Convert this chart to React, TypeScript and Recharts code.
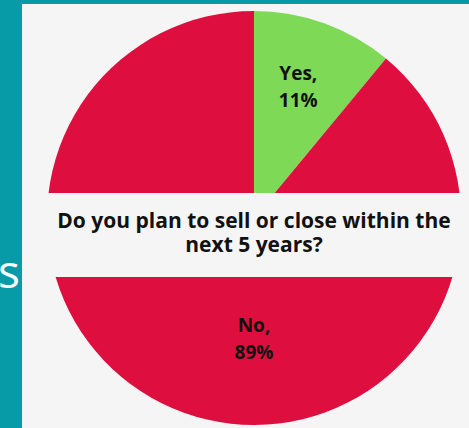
import { PieChart, Pie, Cell } from "recharts";

const TEAL = "#069BA6";
const PANEL = "#F5F5F5";
const RED = "#DE0F3F";
const GREEN = "#7ED957";

const answers = ["Yes", "No"];
const shares = [11, 89];
const sliceColors = [GREEN, RED];
const question = ["Do you plan to sell or close within the", "next 5 years?"];

const data = answers.map((name, i) => ({ name, value: shares[i] }));

const FONT = "'Open Sans', sans-serif";

function SliceLabel(props: any) {
  const { cx, cy, midAngle, outerRadius, index, name, value } = props;
  const RAD = Math.PI / 180;
  let x: number;
  let y: number;
  if (index === 0) {
    const r = outerRadius * 0.66;
    x = cx + r * Math.cos(-midAngle * RAD) - 2;
    y = cy + r * Math.sin(-midAngle * RAD) - 3;
  } else {
    x = cx;
    y = cy + outerRadius * 0.58;
  }
  return (
    <text x={x} y={y} textAnchor="middle" fill="#111" fontFamily={FONT} fontWeight={700} fontSize={19}>
      <tspan x={x} dy={-6}>{name},</tspan>
      <tspan x={x} dy={27}>{value}%</tspan>
    </text>
  );
}

export default function App() {
  return (
    <div style={{ position: "fixed", left: 0, top: 0, width: 469, height: 428, background: TEAL, overflow: "hidden" }}>
      <div
        style={{
          position: "absolute",
          left: -2,
          top: 247,
          color: "#fff",
          fontFamily: FONT,
          fontSize: 46,
          lineHeight: "46px",
        }}
      >
        s
      </div>
      <div style={{ position: "absolute", left: 22, top: 4, width: 447, height: 424, background: PANEL }} />
      <div style={{ position: "absolute", left: 0, top: 0 }}>
        <PieChart width={469} height={428} margin={{ top: 0, right: 0, bottom: 0, left: 0 }}>
          <Pie
            data={data}
            dataKey="value"
            nameKey="name"
            cx={254}
            cy={218}
            outerRadius={207}
            startAngle={90}
            endAngle={-270}
            stroke="none"
            labelLine={false}
            label={SliceLabel}
            isAnimationActive={false}
          >
            {data.map((_, i) => (
              <Cell key={i} fill={sliceColors[i]} />
            ))}
          </Pie>
        </PieChart>
      </div>
      <div
        style={{
          position: "absolute",
          left: 22,
          top: 193,
          width: 447,
          height: 84,
          background: PANEL,
          display: "flex",
          flexDirection: "column",
          alignItems: "center",
          justifyContent: "center",
          boxSizing: "border-box",
          paddingLeft: 17,
          paddingBottom: 7,
          fontFamily: FONT,
          fontWeight: 700,
          fontSize: 21,
          lineHeight: "24px",
          color: "#111",
          whiteSpace: "nowrap",
        }}
      >
        <div>{question[0]}</div>
        <div>{question[1]}</div>
      </div>
    </div>
  );
}
